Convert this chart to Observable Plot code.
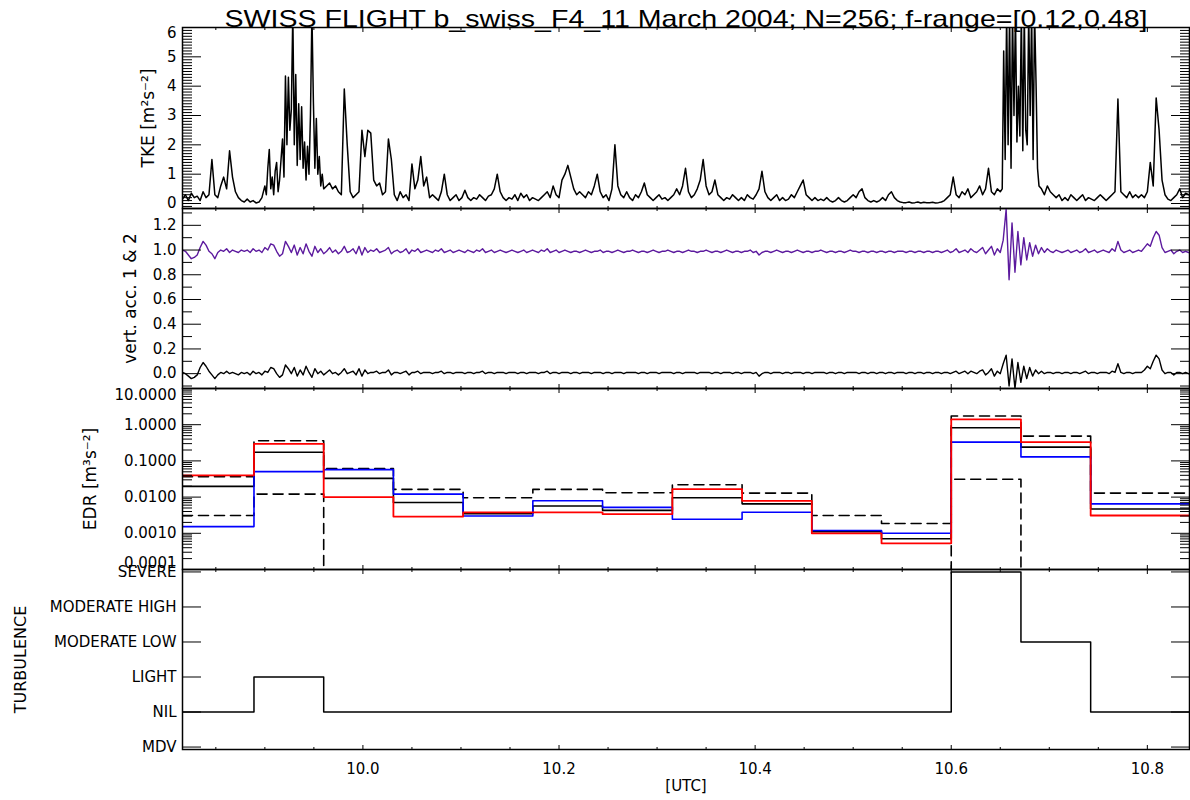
<!DOCTYPE html>
<html><head><meta charset="utf-8">
<script src="https://cdn.jsdelivr.net/npm/d3@7"></script>
<script src="https://cdn.jsdelivr.net/npm/@observablehq/plot@0.6"></script>
<style>
body{margin:0;background:#fff;}
#chart{position:relative;width:1190px;height:800px;background:#fff;}
#chart svg{position:absolute;left:0;overflow:visible;}
</style></head><body><div id="chart"></div>
<script>
// ---------------- data ----------------
const titleText = "SWISS FLIGHT b_swiss_F4_11 March 2004; N=256; f-range=[0.12,0.48]";
const xDomain = [9.816, 10.843];
const xMajor = [10.0, 10.2, 10.4, 10.6, 10.8];
const xMinor = [9.85, 9.9, 9.95, 10.05, 10.1, 10.15, 10.25, 10.3, 10.35, 10.45, 10.5, 10.55, 10.65, 10.7, 10.75];

// TKE, sampled every 0.003 h from t0
const t0 = 9.816, dtTke = 0.003;
const tke = [
0.15,0.3,0.1,0.35,0.2,0.25,0.1,0.4,0.2,0.3,
1.5,0.3,0.2,0.6,0.9,0.5,1.8,0.9,0.4,0.2,
0.1,0.05,0.15,0.05,0.1,0.02,0.05,0.2,0.6,0.9,
1.84,0.8,1.4,0.5,2.2,4.35,2.0,2.3,6.5,4.4,
3.3,2.1,1.0,1.95,6.5,3.45,2.9,1.5,1.0,0.6,
0.7,0.5,0.6,0.4,0.3,3.9,2.0,0.4,0.2,0.3,
0.4,2.5,1.6,2.5,2.4,0.8,0.6,0.7,0.3,0.4,
2.2,1.5,0.3,0.1,0.4,0.2,0.3,0.1,1.35,0.5,
0.8,1.6,0.6,0.9,0.2,0.3,0.2,0.1,0.4,1.0,
0.3,0.1,0.2,0.3,0.1,0.2,0.45,0.2,0.1,0.2,
0.15,0.3,0.2,0.1,0.25,0.3,0.5,1.0,0.4,0.2,
0.1,0.2,0.15,0.3,0.1,0.35,0.2,0.3,0.1,0.2,
0.15,0.1,0.2,0.3,0.4,0.2,0.6,0.3,0.2,0.8,
1.0,1.3,0.9,0.5,0.3,0.4,0.3,0.2,0.4,0.3,
0.6,1.0,0.4,0.2,0.3,0.1,0.5,2.0,0.6,0.3,
0.2,0.4,0.2,0.1,0.3,0.2,0.4,0.7,0.3,0.2,
0.1,0.2,0.3,0.15,0.2,0.1,0.2,0.3,0.5,0.3,
0.6,1.2,0.4,0.2,0.3,0.5,0.8,1.5,0.6,0.3,
0.4,0.8,0.3,0.2,0.1,0.2,0.15,0.3,0.2,0.1,
0.2,0.1,0.3,0.2,0.15,0.3,0.5,1.1,0.4,0.2,
0.1,0.2,0.3,0.1,0.2,0.1,0.15,0.3,0.2,0.4,
0.6,0.8,0.3,0.2,0.1,0.2,0.1,0.15,0.1,0.2,
0.1,0.05,0.1,0.2,0.1,0.05,0.1,0.2,0.3,0.2,
0.4,0.5,0.2,0.1,0.05,0.1,0.05,0.1,0.2,0.1,
0.3,0.4,0.2,0.1,0.05,0.03,0.03,0.05,0.02,0.03,
0.05,0.02,0.04,0.03,0.03,0.04,0.02,0.03,0.05,0.1,
0.2,0.3,0.9,0.3,0.2,0.4,0.3,0.5,0.2,0.3,
0.4,0.6,0.3,0.5,1.2,0.4,0.3,0.5,0.4,5.2,
6.5,3.0,6.5,6.5,2.1,6.5,6.5,2.0,6.5,6.5,
4.1,1.2,0.5,0.3,0.6,0.4,0.3,0.2,0.3,0.1,
0.2,0.1,0.3,0.2,0.1,0.2,0.3,0.1,0.2,0.15,
0.1,0.2,0.3,0.2,0.1,0.2,0.3,0.4,3.56,0.4,
0.3,0.2,0.4,0.2,0.3,0.2,0.3,0.2,0.4,1.4,
0.6,3.6,2.5,0.8,0.3,0.15,0.1,0.2,0.3,0.5,
0.2,0.35,0.3];

// finer readings (every 0.0015 h) inside the two strongest TKE bursts
const dtFine = 0.0015;
const tkeFineA0 = 9.900;
const tkeFineA = [
0.6,0.3,1.2,1.84,0.5,0.9,0.3,1.1,1.4,0.4,
0.8,1.5,2.2,0.9,4.35,2.0,4.3,2.5,3.2,6.5,
2.0,4.4,1.3,3.4,1.5,3.3,1.2,2.1,0.8,1.95,
1.0,3.0,6.5,3.45,1.2,2.9,1.0,1.6,0.6,1.0,
0.5];
const tkeFineB0 = 10.652;
const tkeFineB = [
0.5,5.2,1.5,6.5,2.0,6.5,1.2,6.5,3.0,6.5,
2.1,4.0,2.3,6.5,1.8,6.5,2.5,2.0,6.5,3.0,
6.5,1.5,6.5,4.1,1.2,0.6];

// vertical accelerations, sampled every 0.003 h from t0
const dtAcc = 0.003;
const acc1 = [
1.00,0.99,0.96,0.93,0.94,0.96,1.02,1.07,1.04,0.99,
0.97,0.93,0.98,1.00,0.99,1.01,0.98,1.00,0.99,0.98,
1.00,0.99,1.00,0.98,1.01,0.99,1.00,0.98,1.02,1.00,
1.05,1.04,0.99,0.95,0.97,1.07,1.03,0.98,1.04,0.96,
1.02,0.97,1.05,0.99,0.95,1.03,0.98,1.01,0.97,0.99,
1.02,0.98,1.00,0.97,0.99,1.03,0.98,0.99,1.01,0.97,
1.03,0.96,1.02,0.98,1.00,0.99,1.01,0.98,0.99,1.00,
1.02,0.97,0.99,1.00,0.98,0.99,1.01,0.97,1.00,0.99,
1.01,0.98,0.99,1.00,0.99,0.98,1.00,0.99,1.01,0.98,
0.99,1.00,0.98,0.99,1.00,0.99,0.98,1.00,0.99,0.98,
1.00,0.99,1.01,0.98,0.99,1.00,0.98,0.99,1.00,0.99,
0.98,0.99,1.00,0.99,0.98,0.99,1.00,0.98,0.99,1.00,
0.99,0.98,1.00,0.99,1.01,0.98,0.99,1.00,0.98,0.99,
1.00,0.99,0.98,0.99,0.99,0.98,0.99,1.00,0.99,0.98,
0.99,0.99,1.00,0.98,0.99,0.99,0.98,0.99,1.00,0.99,
0.98,0.99,0.99,1.00,0.99,0.98,0.99,0.99,0.98,0.99,
1.00,0.99,0.98,0.99,0.99,1.00,0.99,0.98,0.99,0.99,
0.98,0.99,1.00,0.99,0.99,0.98,0.99,0.99,1.00,0.99,
0.98,0.99,0.99,0.98,0.99,1.00,0.99,0.98,0.99,0.99,
0.98,0.99,0.99,1.00,0.98,0.99,0.96,0.98,0.99,0.99,
0.98,0.99,1.00,0.99,0.98,0.99,0.99,0.98,0.99,1.00,
0.99,0.98,0.99,0.99,0.98,0.99,0.99,1.00,0.99,0.98,
0.99,0.99,0.98,0.99,0.99,0.98,0.99,1.00,0.99,0.99,
0.98,0.99,0.99,0.98,0.99,0.99,0.98,0.99,0.99,0.98,
0.99,0.99,0.98,0.99,0.99,0.99,0.98,0.99,0.99,0.98,
0.99,0.99,0.98,0.99,0.99,0.98,0.99,0.99,0.98,0.99,
1.00,0.98,0.99,1.01,0.98,0.99,1.00,0.98,1.01,0.99,
0.98,1.00,1.02,0.97,1.00,1.03,0.96,1.01,0.98,1.08,
1.33,0.76,1.22,0.82,1.15,0.88,1.10,0.92,1.06,0.95,
1.04,0.97,1.02,0.98,1.01,0.99,0.98,1.00,0.99,0.98,
0.99,1.00,0.98,0.99,1.00,0.98,0.99,1.01,0.98,0.99,
1.00,0.98,0.99,1.00,0.99,0.98,1.01,0.99,1.07,1.00,
0.98,0.99,1.00,0.98,0.99,1.00,0.99,1.02,1.05,1.03,
1.10,1.15,1.12,1.02,0.98,0.99,1.00,0.97,0.99,1.00,
0.98,0.99,0.98];
const acc2 = [
0.01,0.00,-0.02,-0.04,-0.03,-0.01,0.05,0.09,0.06,0.02,
-0.01,-0.04,-0.01,0.01,0.00,0.02,0.00,0.01,0.00,-0.01,
0.01,0.00,0.01,-0.01,0.02,0.00,0.01,-0.01,0.02,0.01,
0.05,0.04,0.00,-0.03,-0.01,0.07,0.04,0.00,0.05,-0.02,
0.03,-0.01,0.06,0.01,-0.03,0.04,0.00,0.02,-0.01,0.01,
0.03,0.00,0.01,-0.01,0.01,0.04,0.00,0.01,0.02,-0.01,
0.04,-0.02,0.03,0.00,0.01,0.01,0.02,0.00,0.01,0.01,
0.03,-0.01,0.01,0.01,0.00,0.01,0.02,-0.01,0.01,0.01,
0.02,0.00,0.01,0.01,0.01,0.00,0.01,0.01,0.02,0.00,
0.01,0.01,0.00,0.01,0.01,0.01,0.00,0.01,0.01,0.00,
0.01,0.01,0.02,0.00,0.01,0.01,0.00,0.01,0.01,0.01,
0.00,0.01,0.01,0.01,0.00,0.01,0.01,0.00,0.01,0.01,
0.01,0.00,0.01,0.01,0.02,0.00,0.01,0.01,0.00,0.01,
0.01,0.01,0.00,0.01,0.01,0.00,0.01,0.01,0.01,0.00,
0.01,0.01,0.01,0.00,0.01,0.01,0.00,0.01,0.01,0.01,
0.00,0.01,0.01,0.01,0.01,0.00,0.01,0.01,0.00,0.01,
0.01,0.01,0.00,0.01,0.01,0.01,0.01,0.00,0.01,0.01,
0.00,0.01,0.01,0.01,0.01,0.00,0.01,0.01,0.01,0.01,
0.00,0.01,0.01,0.00,0.01,0.01,0.01,0.00,0.01,0.01,
0.00,0.01,0.01,0.01,0.00,0.01,-0.02,0.00,0.01,0.01,
0.00,0.01,0.01,0.01,0.00,0.01,0.01,0.00,0.01,0.01,
0.01,0.00,0.01,0.01,0.00,0.01,0.01,0.01,0.01,0.00,
0.01,0.01,0.00,0.01,0.01,0.00,0.01,0.01,0.01,0.01,
0.00,0.01,0.01,0.00,0.01,0.01,0.00,0.01,0.01,0.00,
0.01,0.01,0.00,0.01,0.01,0.01,0.00,0.01,0.01,0.00,
0.01,0.01,0.00,0.01,0.01,0.00,0.01,0.01,0.00,0.01,
0.01,0.00,0.01,0.02,0.00,0.01,0.02,0.00,0.02,0.01,
0.00,0.02,0.03,-0.01,0.01,0.04,-0.02,0.02,0.00,0.08,
0.15,-0.10,0.12,-0.12,0.09,-0.07,0.06,-0.04,0.05,-0.02,
0.03,0.00,0.02,0.00,0.01,0.01,0.00,0.01,0.01,0.00,
0.01,0.01,0.00,0.01,0.01,0.00,0.01,0.02,0.00,0.01,
0.01,0.00,0.01,0.01,0.01,0.00,0.02,0.01,0.08,0.01,
0.00,0.01,0.01,0.00,0.01,0.01,0.01,0.03,0.06,0.04,
0.10,0.15,0.12,0.03,0.00,0.01,0.01,-0.01,0.01,0.01,
0.00,0.01,0.00];

// EDR per 256-sample bin
const binStart = [9.816, 9.8889, 9.96, 10.0311, 10.1022, 10.1733, 10.2444, 10.3156, 10.3867, 10.4578, 10.5289, 10.6, 10.6711, 10.7422];
const edrRed   = [0.040, 0.297, 0.0100, 0.0029, 0.0038, 0.0038, 0.0034, 0.0167, 0.0079, 0.0010, 0.00053, 1.41, 0.330, 0.0031];
const edrBlue  = [0.00153, 0.0506, 0.0574, 0.0121, 0.0030, 0.0079, 0.0052, 0.00245, 0.0038, 0.00119, 0.0010, 0.330, 0.129, 0.0065];
const edrMean  = [0.0198, 0.174, 0.033, 0.0071, 0.0035, 0.0057, 0.0043, 0.0096, 0.0065, 0.00111, 0.00071, 0.826, 0.24, 0.0047];
const edrUpper = [0.0367, 0.36, 0.0612, 0.0163, 0.0096, 0.0163, 0.0132, 0.022, 0.0129, 0.0031, 0.00186, 1.74, 0.484, 0.0129];
const edrLower = [0.0031, 0.0121, 1e-6, 1e-6, 1e-6, 1e-6, 1e-6, 1e-6, 1e-6, 1e-6, 1e-6, 0.031, 1e-6, 1e-6];

// turbulence class per bin (0 = MDV ... 5 = SEVERE)
const turbClass = [1, 2, 1, 1, 1, 1, 1, 1, 1, 1, 1, 5, 3, 1];
const turbLabels = ["MDV", "NIL", "LIGHT", "MODERATE LOW", "MODERATE HIGH", "SEVERE"];

const tkeTicks = [0, 1, 2, 3, 4, 5, 6];
const accTicks = [0, 0.2, 0.4, 0.6, 0.8, 1.0, 1.2];
const accMinor = [-0.1, 0.1, 0.3, 0.5, 0.7, 0.9, 1.1, 1.3];
const edrTicks = [1e-4, 1e-3, 1e-2, 1e-1, 1, 10];

// ---------------- build ----------------
const tkeMinor = d3.range(-1, 60).map(k => k / 10).filter(v => Math.abs(v - Math.round(v)) > 1e-9);
const edrMinor = [];
for (const d of [1e-4, 1e-3, 1e-2, 1e-1, 1]) for (let k = 2; k <= 9; k++) edrMinor.push(k * d);

const fineA = tkeFineA.map((v, i) => ({t: tkeFineA0 + i * dtFine, v}));
const fineB = tkeFineB.map((v, i) => ({t: tkeFineB0 + i * dtFine, v}));
const inRange = (t, seg) => t >= seg[0].t - 1e-9 && t <= seg[seg.length - 1].t + 1e-9;
const tkeData = tke.map((v, i) => ({t: t0 + i * dtTke, v}))
  .filter(d => !inRange(d.t, fineA) && !inRange(d.t, fineB))
  .concat(fineA, fineB)
  .sort((a, b) => a.t - b.t);
const acc1Data = acc1.map((v, i) => ({t: t0 + i * dtAcc, v}));
const acc2Data = acc2.map((v, i) => ({t: t0 + i * dtAcc, v}));
function steps(vals) {
  const d = binStart.map((t, i) => ({t, v: vals[i]}));
  d.push({t: xDomain[1], v: vals[vals.length - 1]});
  return d;
}

const W = 1190, ML = 182, MR = 1;
const style = {fontFamily: "'DejaVu Sans', sans-serif", fontSize: "15px", background: "transparent", overflow: "visible", color: "black"};
const empty = () => "";

function xTickMarks() {
  return [
    Plot.axisX(xMajor, {anchor: "bottom", tickSize: -4, tickFormat: empty, label: null}),
    Plot.axisX(xMinor, {anchor: "bottom", tickSize: -2, tickFormat: empty, label: null}),
    Plot.axisX(xMajor, {anchor: "top", tickSize: -4, tickFormat: empty, label: null}),
    Plot.axisX(xMinor, {anchor: "top", tickSize: -2, tickFormat: empty, label: null})
  ];
}
function yTickMarks(major, minor, fmt, extra = {}) {
  const m = [
    Plot.axisY(major, {anchor: "left", tickSize: -19, tickPadding: 25, tickFormat: fmt, label: null, ...extra}),
    Plot.axisY(major, {anchor: "right", tickSize: -19, tickFormat: empty, label: null})
  ];
  if (minor) {
    m.push(Plot.axisY(minor, {anchor: "left", tickSize: -10, tickFormat: empty, label: null}));
    m.push(Plot.axisY(minor, {anchor: "right", tickSize: -10, tickFormat: empty, label: null}));
  }
  return m;
}
function ylabel(text, dx, size = 17) {
  return Plot.text([text], {text: d => d, frameAnchor: "left", textAnchor: "middle", lineAnchor: "middle", dx, rotate: -90, fontSize: size});
}

const chart = document.getElementById("chart");
function place(svg, top) { svg.style.top = top + "px"; chart.appendChild(svg); return svg; }

// Panel 1: TKE
const p1 = Plot.plot({
  width: W, height: 208, marginLeft: ML, marginRight: MR, marginTop: 27, marginBottom: 0,
  style,
  x: {domain: xDomain},
  y: {domain: [-0.17, 6]},
  marks: [
    Plot.line(tkeData, {x: "t", y: "v", stroke: "black", strokeWidth: 1.5, clip: true}),
    ...xTickMarks(),
    ...yTickMarks(tkeTicks, tkeMinor, d => d === 6 ? "" : String(d)),
    Plot.axisY([6], {anchor: "left", tickSize: 0, tickPadding: 6, dy: 6, tickFormat: d => String(d), label: null}),
    ylabel("TKE [m²s⁻²]", -34),
    Plot.text([titleText], {text: d => d, frameAnchor: "top", lineAnchor: "bottom", dy: -1, fontSize: 24, fontFamily: "'Liberation Sans', sans-serif"}),
    Plot.frame({stroke: "black", strokeWidth: 1.5})
  ]
});
place(p1, 0);
for (const el of p1.querySelectorAll("text")) {
  if (el.textContent === titleText) { el.setAttribute("textLength", "923"); el.setAttribute("lengthAdjust", "spacingAndGlyphs"); }
}

// Panel 2: vertical accelerations
const p2 = Plot.plot({
  width: W, height: 180, marginLeft: ML, marginRight: MR, marginTop: 0, marginBottom: 0,
  style,
  x: {domain: xDomain},
  y: {domain: [-0.12, 1.336]},
  marks: [
    Plot.line(acc1Data, {x: "t", y: "v", stroke: "#5c1a9e", strokeWidth: 1.4, clip: true}),
    Plot.line(acc2Data, {x: "t", y: "v", stroke: "black", strokeWidth: 1.4, clip: true}),
    ...xTickMarks(),
    ...yTickMarks(accTicks, accMinor, d3.format(".1f")),
    ylabel("vert. acc. 1 & 2", -52),
    Plot.frame({stroke: "black", strokeWidth: 1.5})
  ]
});
place(p2, 208);

// Panel 3: EDR
const fmt4 = d3.format(".4f");
const p3 = Plot.plot({
  width: W, height: 181, marginLeft: ML, marginRight: MR, marginTop: 0, marginBottom: 0,
  style,
  x: {domain: xDomain},
  y: {type: "log", domain: [1e-4, 10]},
  marks: [
    Plot.line(steps(edrUpper), {x: "t", y: "v", curve: "step-after", stroke: "black", strokeWidth: 1.6, strokeDasharray: "10,6", clip: true}),
    Plot.line(steps(edrLower), {x: "t", y: "v", curve: "step-after", stroke: "black", strokeWidth: 1.6, strokeDasharray: "10,6", clip: true}),
    Plot.line(steps(edrMean), {x: "t", y: "v", curve: "step-after", stroke: "black", strokeWidth: 1.6, clip: true}),
    Plot.line(steps(edrBlue), {x: "t", y: "v", curve: "step-after", stroke: "blue", strokeWidth: 1.6, clip: true}),
    Plot.line(steps(edrRed), {x: "t", y: "v", curve: "step-after", stroke: "red", strokeWidth: 1.8, clip: true}),
    ...xTickMarks(),
    ...yTickMarks(edrTicks, edrMinor, d => (d === 10 || d === 1e-4) ? "" : fmt4(d)),
    Plot.axisY([10], {anchor: "left", tickSize: 0, tickPadding: 6, dy: 7, tickFormat: fmt4, label: null}),
    Plot.axisY([1e-4], {anchor: "left", tickSize: 0, tickPadding: 6, dy: -6, tickFormat: fmt4, label: null}),
    ylabel("EDR [m³s⁻²]", -92),
    Plot.frame({stroke: "black", strokeWidth: 1.5})
  ]
});
place(p3, 388);

// Panel 4: turbulence class
const turbData = steps(turbClass);
const p4 = Plot.plot({
  width: W, height: 231, marginLeft: ML, marginRight: MR, marginTop: 0, marginBottom: 51,
  style,
  x: {domain: xDomain},
  y: {domain: [-0.07, 5.07]},
  marks: [
    Plot.line(turbData, {x: "t", y: "v", curve: "step-after", stroke: "black", strokeWidth: 1.5, clip: true}),
    ...xTickMarks(),
    Plot.axisX(xMajor, {anchor: "bottom", tickSize: 0, tickPadding: 14, tickFormat: d3.format(".1f"), label: null}),
    ...yTickMarks([0, 1, 2, 3, 4, 5], null, d => turbLabels[d]),
    ylabel("TURBULENCE", -162, 16),
    Plot.text(["[UTC]"], {text: d => d, frameAnchor: "bottom", dy: 41, fontSize: 15}),
    Plot.frame({stroke: "black", strokeWidth: 1.5})
  ]
});
place(p4, 569);
</script></body></html>
